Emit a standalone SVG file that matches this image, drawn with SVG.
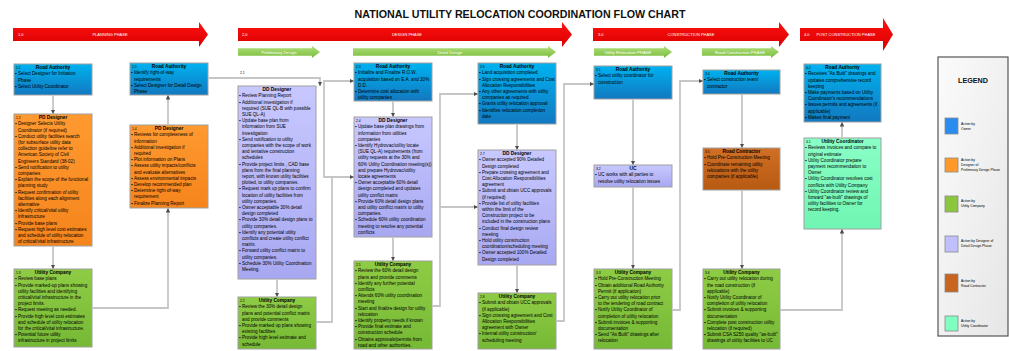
<svg xmlns="http://www.w3.org/2000/svg" width="1009" height="351" viewBox="0 0 1009 351">
<style>
.t{font-family:"Liberation Sans",Arial,sans-serif;font-size:4.6px;fill:#000}
.h{font-family:"Liberation Sans",Arial,sans-serif;font-size:4.8px;font-weight:bold;text-anchor:middle;fill:#000}
.n{font-family:"Liberation Sans",Arial,sans-serif;font-size:3.4px;fill:#000}
.box{stroke:#a0a0a0;stroke-width:1}
.c path{fill:none;stroke:#c6c6c6;stroke-width:1.8;marker-end:url(#ah)}
.ph{font-family:"Liberation Sans",Arial,sans-serif;font-size:4px;fill:#fff}
.gp{font-family:"Liberation Sans",Arial,sans-serif;font-size:4.2px;fill:#fff;text-anchor:middle}
.lg{font-family:"Liberation Sans",Arial,sans-serif;font-size:3.4px;fill:#000}
.sq{stroke:#8a8a8a;stroke-width:0.8}
</style>
<defs>
<linearGradient id="gBlue" x1="0" y1="0" x2="0" y2="1"><stop offset="0" stop-color="#00b2f0"/><stop offset="1" stop-color="#1278c0"/></linearGradient>
<linearGradient id="gOrange" x1="0" y1="0" x2="0" y2="1"><stop offset="0" stop-color="#ff9a30"/><stop offset="1" stop-color="#f5841c"/></linearGradient>
<linearGradient id="gGreen" x1="0" y1="0" x2="0" y2="1"><stop offset="0" stop-color="#8fcc45"/><stop offset="1" stop-color="#76b935"/></linearGradient>
<linearGradient id="gLav" x1="0" y1="0" x2="0" y2="1"><stop offset="0" stop-color="#c8c8ff"/><stop offset="1" stop-color="#a8a8f2"/></linearGradient>
<linearGradient id="gBrown" x1="0" y1="0" x2="0" y2="1"><stop offset="0" stop-color="#d06f25"/><stop offset="1" stop-color="#b85a12"/></linearGradient>
<linearGradient id="gMint" x1="0" y1="0" x2="0" y2="1"><stop offset="0" stop-color="#8affc6"/><stop offset="1" stop-color="#70f5b2"/></linearGradient>
<linearGradient id="gRed" x1="0" y1="0" x2="0" y2="1"><stop offset="0" stop-color="#ff1010"/><stop offset="1" stop-color="#d80000"/></linearGradient>
<linearGradient id="gGA" x1="0" y1="0" x2="0" y2="1"><stop offset="0" stop-color="#b2de7c"/><stop offset="1" stop-color="#78be3c"/></linearGradient>
<linearGradient id="gLeg" x1="0" y1="0" x2="1" y2="1"><stop offset="0" stop-color="#fbfbfb"/><stop offset="1" stop-color="#e6e6e6"/></linearGradient>
<marker id="ah" markerWidth="4.5" markerHeight="4.5" refX="4.5" refY="2.25" orient="auto" markerUnits="userSpaceOnUse"><path d="M0,0 L4.5,2.25 L0,4.5 Z" fill="#4d4d4d"/></marker>
</defs>
<rect width="1009" height="351" fill="#fff"/>
<text x="520" y="18.3" font-family="Liberation Sans, Arial, sans-serif" font-size="10.7" font-weight="bold" text-anchor="middle" fill="#111">NATIONAL UTILITY RELOCATION COORDINATION FLOW CHART</text>

<g id="phases">
<path d="M13,28 H199 V22 L208,34.5 L199,47 V41 H13 Z" fill="url(#gRed)"/>
<text class="ph" x="18" y="36.2">1.0</text><text class="ph" x="110" y="36.2" text-anchor="middle">PLANNING PHASE</text>
<path d="M238,28 H562 V22 L572,34.5 L562,47 V41 H238 Z" fill="url(#gRed)"/>
<text class="ph" x="242" y="36.2">2.0</text><text class="ph" x="407" y="36.2" text-anchor="middle">DESIGN PHASE</text>
<path d="M593,28 H779 V22 L789,34.5 L779,47 V41 H593 Z" fill="url(#gRed)"/>
<text class="ph" x="598" y="36.2">3.0</text><text class="ph" x="691" y="36.2" text-anchor="middle">CONSTRUCTION PHASE</text>
<path d="M800,28 H883 V18 L893,34.5 L883,51 V41 H800 Z" fill="url(#gRed)"/>
<text class="ph" x="804" y="36.2">4.0</text><text class="ph" x="846" y="36.2" text-anchor="middle">POST CONSTRUCTION PHASE</text>
<path d="M238,48.3 H312 V46 L320,52 L312,58 V55.7 H238 Z" fill="url(#gGA)"/>
<text class="gp" x="279" y="53.5">Preliminary Design</text>
<path d="M353,48.3 H548 V46 L556,52 L548,58 V55.7 H353 Z" fill="url(#gGA)"/>
<text class="gp" x="450" y="53.5">Detail Design</text>
<path d="M594,48.3 H664 V46 L672,52 L664,58 V55.7 H594 Z" fill="url(#gGA)"/>
<text class="gp" x="628" y="53.5">Utility Relocation PHASE</text>
<path d="M702,48.3 H771 V46 L779,52 L771,58 V55.7 H702 Z" fill="url(#gGA)"/>
<text class="gp" x="740" y="53.5">Road Construction PHASE</text>
</g>

<g id="n1_1">
<rect class="box" x="14" y="64" width="78" height="31" fill="url(#gBlue)"/>
<text class="n" x="16" y="68.6">1.1</text>
<text class="h" x="53" y="69.2">Road Authority</text>
<text class="t"><tspan x="15.2" y="75.4">▪</tspan><tspan x="18">Select Designer for Initiation</tspan><tspan x="18" y="81.6">Phase</tspan><tspan x="15.2" y="87.8">▪</tspan><tspan x="18">Select Utility Coordinator</tspan></text>
</g>

<g id="n1_2">
<rect class="box" x="14" y="114" width="78" height="132" fill="url(#gOrange)"/>
<text class="n" x="16" y="118.6">1.2</text>
<text class="h" x="53" y="119.2">PD Designer</text>
<text class="t"><tspan x="15.2" y="125.4">▪</tspan><tspan x="18">Designer Selects Utility</tspan><tspan x="18" y="131.6">Coordinator (if required)</tspan><tspan x="15.2" y="137.8">▪</tspan><tspan x="18">Conduct utility facilities search</tspan><tspan x="18" y="144">(for subsurface utility data</tspan><tspan x="18" y="150.2">collection guideline refer to</tspan><tspan x="18" y="156.4">American Society of Civil</tspan><tspan x="18" y="162.6">Engineers Standard (38-02)</tspan><tspan x="15.2" y="168.8">▪</tspan><tspan x="18">Send notification to utility</tspan><tspan x="18" y="175">companies</tspan><tspan x="15.2" y="181.2">▪</tspan><tspan x="18">Explain the scope of the functional</tspan><tspan x="18" y="187.4">planning study</tspan><tspan x="15.2" y="193.6">▪</tspan><tspan x="18">Request confirmation of utility</tspan><tspan x="18" y="199.8">facilities along each alignment</tspan><tspan x="18" y="206">alternative</tspan><tspan x="15.2" y="212.2">▪</tspan><tspan x="18">Identify critical/vital utility</tspan><tspan x="18" y="218.4">infrastructure</tspan><tspan x="15.2" y="224.6">▪</tspan><tspan x="18">Provide base plans</tspan><tspan x="15.2" y="230.8">▪</tspan><tspan x="18">Request high level cost estimates</tspan><tspan x="18" y="237">and schedule of utility relocation</tspan><tspan x="18" y="243.2">of critical/vital infrastructure</tspan></text>
</g>

<g id="n1_3">
<rect class="box" x="14" y="269" width="78" height="78" fill="url(#gGreen)"/>
<text class="n" x="16" y="273.6">1.3</text>
<text class="h" x="53" y="274.2">Utility Company</text>
<text class="t"><tspan x="15.2" y="280.4">▪</tspan><tspan x="18">Review base plans</tspan><tspan x="15.2" y="286.6">▪</tspan><tspan x="18">Provide  marked-up plans showing</tspan><tspan x="18" y="292.8">utility facilities and identifying</tspan><tspan x="18" y="299">critical/vital infrastructure in the</tspan><tspan x="18" y="305.2">project limits.</tspan><tspan x="15.2" y="311.4">▪</tspan><tspan x="18">Request meeting as needed.</tspan><tspan x="15.2" y="317.6">▪</tspan><tspan x="18">Provide high level cost estimates</tspan><tspan x="18" y="323.8">and schedule of utility relocation</tspan><tspan x="18" y="330">for the critical/vital infrastructure.</tspan><tspan x="15.2" y="336.2">▪</tspan><tspan x="18">Potential future utility</tspan><tspan x="18" y="342.4">infrastructure in project limits</tspan></text>
</g>

<g id="n1_5">
<rect class="box" x="130" y="63" width="78" height="32" fill="url(#gBlue)"/>
<text class="n" x="132" y="67.6">1.5</text>
<text class="h" x="169" y="68.2">Road Authority</text>
<text class="t"><tspan x="131.2" y="74.4">▪</tspan><tspan x="134">Identify right-of-way</tspan><tspan x="134" y="80.6">requirements</tspan><tspan x="131.2" y="86.8">▪</tspan><tspan x="134">Select Designer for Detail Design</tspan><tspan x="134" y="93">Phase</tspan></text>
</g>

<g id="n1_4">
<rect class="box" x="130" y="125" width="78" height="83" fill="url(#gOrange)"/>
<text class="n" x="132" y="129.6">1.4</text>
<text class="h" x="169" y="130.2">PD Designer</text>
<text class="t"><tspan x="131.2" y="136.4">▪</tspan><tspan x="134">Reviews for completeness of</tspan><tspan x="134" y="142.6">information</tspan><tspan x="131.2" y="148.8">▪</tspan><tspan x="134">Additional investigation if</tspan><tspan x="134" y="155">required</tspan><tspan x="131.2" y="161.2">▪</tspan><tspan x="134">Plot information on Plans</tspan><tspan x="131.2" y="167.4">▪</tspan><tspan x="134">Assess utility impacts/conflicts</tspan><tspan x="134" y="173.6">and evaluate alternatives</tspan><tspan x="131.2" y="179.8">▪</tspan><tspan x="134">Assess environmental impacts</tspan><tspan x="131.2" y="186">▪</tspan><tspan x="134">Develop recommended plan</tspan><tspan x="131.2" y="192.2">▪</tspan><tspan x="134">Determine right-of-way</tspan><tspan x="134" y="198.4">requirement</tspan><tspan x="131.2" y="204.6">▪</tspan><tspan x="134">Finalize Planning Report</tspan></text>
</g>

<g id="n2_1">
<text class="n" x="240" y="74">2.1</text>
<rect class="box" x="238" y="86" width="78" height="193" fill="url(#gLav)"/>
<text class="h" x="277" y="91.2">DD Designer</text>
<text class="t"><tspan x="239.2" y="97.4">▪</tspan><tspan x="242">Review Planning Report</tspan><tspan x="239.2" y="103.6">▪</tspan><tspan x="242">Additional investigation if</tspan><tspan x="242" y="109.8">required (SUE QL-B with possible</tspan><tspan x="242" y="116">SUE QL-A)</tspan><tspan x="239.2" y="122.2">▪</tspan><tspan x="242">Update base plan from</tspan><tspan x="242" y="128.4">information from SUE</tspan><tspan x="242" y="134.6">investigation</tspan><tspan x="239.2" y="140.8">▪</tspan><tspan x="242">Send notification to utility</tspan><tspan x="242" y="147">companies with the scope of work</tspan><tspan x="242" y="153.2">and tentative construction</tspan><tspan x="242" y="159.4">schedules</tspan><tspan x="239.2" y="165.6">▪</tspan><tspan x="242">Provide project limits , CAD base</tspan><tspan x="242" y="171.8">plans from the final planning</tspan><tspan x="242" y="178">report, with known utility facilities</tspan><tspan x="242" y="184.2">plotted, to utility companies.</tspan><tspan x="239.2" y="190.4">▪</tspan><tspan x="242">Request mark up plans to confirm</tspan><tspan x="242" y="196.6">location of utility facilities from</tspan><tspan x="242" y="202.8">utility companies.</tspan><tspan x="239.2" y="209">▪</tspan><tspan x="242">Owner acceptable 30% detail</tspan><tspan x="242" y="215.2">design completed</tspan><tspan x="239.2" y="221.4">▪</tspan><tspan x="242">Provide 30% detail design plans to</tspan><tspan x="242" y="227.6">utility companies.</tspan><tspan x="239.2" y="233.8">▪</tspan><tspan x="242">Identify any potential utility</tspan><tspan x="242" y="240">conflicts and create utility conflict</tspan><tspan x="242" y="246.2">matrix.</tspan><tspan x="239.2" y="252.4">▪</tspan><tspan x="242">Forward utility conflict matrix to</tspan><tspan x="242" y="258.6">utility companies.</tspan><tspan x="239.2" y="264.8">▪</tspan><tspan x="242">Schedule 30% Utility Coordination</tspan><tspan x="242" y="271">Meeting.</tspan></text>
</g>

<g id="n2_2">
<rect class="box" x="238" y="297" width="78" height="52" fill="url(#gGreen)"/>
<text class="n" x="240" y="301.6">2.2</text>
<text class="h" x="277" y="302.2">Utility Company</text>
<text class="t"><tspan x="239.2" y="308.4">▪</tspan><tspan x="242">Review the 30% detail design</tspan><tspan x="242" y="314.6">plans and potential conflict matrix</tspan><tspan x="242" y="320.8">and provide comments</tspan><tspan x="239.2" y="327">▪</tspan><tspan x="242">Provide marked up plans showing</tspan><tspan x="242" y="333.2">existing facilities</tspan><tspan x="239.2" y="339.4">▪</tspan><tspan x="242">Provide high level estimate and</tspan><tspan x="242" y="345.6">schedule</tspan></text>
</g>

<g id="n2_3">
<rect class="box" x="354" y="63" width="78" height="38" fill="url(#gBlue)"/>
<text class="n" x="356" y="67.6">2.3</text>
<text class="h" x="393" y="68.2">Road Authority</text>
<text class="t"><tspan x="355.2" y="74.4">▪</tspan><tspan x="358">Initialize and Finalize R.O.W.</tspan><tspan x="358" y="80.6">acquisition based on E.A. and 30%</tspan><tspan x="358" y="86.8">D.D.</tspan><tspan x="355.2" y="93">▪</tspan><tspan x="358">Determine cost allocation with</tspan><tspan x="358" y="99.2">utility companies</tspan></text>
</g>

<g id="n2_4">
<rect class="box" x="354" y="117" width="78" height="120" fill="url(#gLav)"/>
<text class="n" x="356" y="121.6">2.4</text>
<text class="h" x="393" y="122.2">DD Designer</text>
<text class="t"><tspan x="355.2" y="128.4">▪</tspan><tspan x="358">Update base plan drawings from</tspan><tspan x="358" y="134.6">information from utilities</tspan><tspan x="358" y="140.8">companies</tspan><tspan x="355.2" y="147">▪</tspan><tspan x="358">Identify Hydrovac/utility locate</tspan><tspan x="358" y="153.2">(SUE QL-A) requirements (from</tspan><tspan x="358" y="159.4">utility requests at the 30% and</tspan><tspan x="358" y="165.6">60% Utility Coordination meeting(s))</tspan><tspan x="358" y="171.8">and prepare Hydrovac/utility</tspan><tspan x="358" y="178">locate agreements</tspan><tspan x="355.2" y="184.2">▪</tspan><tspan x="358">Owner acceptable 60% detail</tspan><tspan x="358" y="190.4">design completed and updates</tspan><tspan x="358" y="196.6">utility conflict matrix</tspan><tspan x="355.2" y="202.8">▪</tspan><tspan x="358">Provide 60% detail design plans</tspan><tspan x="358" y="209">and utility conflict matrix to utility</tspan><tspan x="358" y="215.2">companies.</tspan><tspan x="355.2" y="221.4">▪</tspan><tspan x="358">Schedule 60%  utility coordination</tspan><tspan x="358" y="227.6">meeting to resolve any potential</tspan><tspan x="358" y="233.8">conflicts</tspan></text>
</g>

<g id="n2_5">
<rect class="box" x="354" y="261" width="78" height="88" fill="url(#gGreen)"/>
<text class="n" x="356" y="265.6">2.5</text>
<text class="h" x="393" y="266.2">Utility Company</text>
<text class="t"><tspan x="355.2" y="272.4">▪</tspan><tspan x="358">Review the 60% detail design</tspan><tspan x="358" y="278.6">plans and provide comments</tspan><tspan x="355.2" y="284.8">▪</tspan><tspan x="358">Identify any further potential</tspan><tspan x="358" y="291">conflicts</tspan><tspan x="355.2" y="297.2">▪</tspan><tspan x="358">Attends 60% utility coordination</tspan><tspan x="358" y="303.4">meeting</tspan><tspan x="355.2" y="309.6">▪</tspan><tspan x="358">Start and finalize design for utility</tspan><tspan x="358" y="315.8">relocation</tspan><tspan x="355.2" y="322">▪</tspan><tspan x="358">Identify property needs if known</tspan><tspan x="355.2" y="328.2">▪</tspan><tspan x="358">Provide final estimate and</tspan><tspan x="358" y="334.4">construction schedule</tspan><tspan x="355.2" y="340.6">▪</tspan><tspan x="358">Obtains approvals/permits from</tspan><tspan x="358" y="346.8">road and other authorities.</tspan></text>
</g>

<g id="n2_6">
<rect class="box" x="478" y="63" width="78" height="61" fill="url(#gBlue)"/>
<text class="n" x="480" y="67.6">2.6</text>
<text class="h" x="517" y="68.2">Road Authority</text>
<text class="t"><tspan x="479.2" y="74.4">▪</tspan><tspan x="482">Land acquisition completed</tspan><tspan x="479.2" y="80.6">▪</tspan><tspan x="482">Sign crossing agreements and Cost</tspan><tspan x="482" y="86.8">Allocation Responsibilities</tspan><tspan x="479.2" y="93">▪</tspan><tspan x="482">Any other agreements with utility</tspan><tspan x="482" y="99.2">companies as required</tspan><tspan x="479.2" y="105.4">▪</tspan><tspan x="482">Grants utility relocation approval</tspan><tspan x="479.2" y="111.6">▪</tspan><tspan x="482">Identifies relocation completion</tspan><tspan x="482" y="117.8">date</tspan></text>
</g>

<g id="n2_7">
<rect class="box" x="478" y="150" width="78" height="115" fill="url(#gLav)"/>
<text class="n" x="480" y="154.6">2.7</text>
<text class="h" x="517" y="155.2">DD Designer</text>
<text class="t"><tspan x="479.2" y="161.4">▪</tspan><tspan x="482">Owner accepted 90% Detailed</tspan><tspan x="482" y="167.6">Design completed</tspan><tspan x="479.2" y="173.8">▪</tspan><tspan x="482">Prepare crossing agreement and</tspan><tspan x="482" y="180">Cost Allocation Responsibilities</tspan><tspan x="482" y="186.2">agreement</tspan><tspan x="479.2" y="192.4">▪</tspan><tspan x="482">Submit and obtain UCC approvals</tspan><tspan x="482" y="198.6">(if required)</tspan><tspan x="479.2" y="204.8">▪</tspan><tspan x="482">Provide list of utility facilities</tspan><tspan x="482" y="211">within the limit of the</tspan><tspan x="482" y="217.2">Construction project to be</tspan><tspan x="482" y="223.4">included in the construction plans</tspan><tspan x="479.2" y="229.6">▪</tspan><tspan x="482">Conduct final design review</tspan><tspan x="482" y="235.8">meeting</tspan><tspan x="479.2" y="242">▪</tspan><tspan x="482">Hold utility construction</tspan><tspan x="482" y="248.2">coordination/scheduling meeting</tspan><tspan x="479.2" y="254.4">▪</tspan><tspan x="482">Owner accepted 100% Detailed</tspan><tspan x="482" y="260.6">Design completed</tspan></text>
</g>

<g id="n2_8">
<rect class="box" x="478" y="293" width="78" height="56" fill="url(#gGreen)"/>
<text class="n" x="480" y="297.6">2.8</text>
<text class="h" x="517" y="298.2">Utility Company</text>
<text class="t"><tspan x="479.2" y="304.4">▪</tspan><tspan x="482">Submit and obtain UCC approvals</tspan><tspan x="482" y="310.6">(if applicable)</tspan><tspan x="479.2" y="316.8">▪</tspan><tspan x="482">Sign crossing agreement and Cost</tspan><tspan x="482" y="323">Allocation Responsibilities</tspan><tspan x="482" y="329.2">agreement with Owner</tspan><tspan x="479.2" y="335.4">▪</tspan><tspan x="482">Internal utility construction/</tspan><tspan x="482" y="341.6">scheduling meeting</tspan></text>
</g>

<g id="n3_1">
<rect class="box" x="594" y="66" width="78" height="33" fill="url(#gBlue)"/>
<text class="n" x="596" y="70.6">3.1</text>
<text class="h" x="633" y="71.2">Road Authority</text>
<text class="t"><tspan x="595.2" y="77.4">▪</tspan><tspan x="598">Select utility coordinator for</tspan><tspan x="598" y="83.6">construction</tspan></text>
</g>

<g id="n3_2">
<rect class="box" x="594" y="165" width="78" height="22" fill="url(#gLav)"/>
<text class="n" x="596" y="169.6">3.2</text>
<text class="h" x="633" y="170.2">UC</text>
<text class="t"><tspan x="595.2" y="176.4">▪</tspan><tspan x="598">UC works with all parties to</tspan><tspan x="598" y="182.6">resolve utility relocation issues</tspan></text>
</g>

<g id="n3_3">
<rect class="box" x="594" y="269" width="78" height="80" fill="url(#gGreen)"/>
<text class="n" x="596" y="273.6">3.3</text>
<text class="h" x="633" y="274.2">Utility Company</text>
<text class="t"><tspan x="595.2" y="280.4">▪</tspan><tspan x="598">Hold Pre-Construction Meeting</tspan><tspan x="595.2" y="286.6">▪</tspan><tspan x="598">Obtain additional Road Authority</tspan><tspan x="598" y="292.8">Permit (if application)</tspan><tspan x="595.2" y="299">▪</tspan><tspan x="598">Carry out utility relocation  prior</tspan><tspan x="598" y="305.2">to the tendering of road contract</tspan><tspan x="595.2" y="311.4">▪</tspan><tspan x="598">Notify Utility Coordinator of</tspan><tspan x="598" y="317.6">completion of utility relocation</tspan><tspan x="595.2" y="323.8">▪</tspan><tspan x="598">Submit invoices &amp; supporting</tspan><tspan x="598" y="330">documentation</tspan><tspan x="595.2" y="336.2">▪</tspan><tspan x="598">Send "As Built" drawings after</tspan><tspan x="598" y="342.4">relocation</tspan></text>
</g>

<g id="n3_4">
<rect class="box" x="703" y="70" width="77" height="24" fill="url(#gBlue)"/>
<text class="n" x="705" y="74.6">3.4</text>
<text class="h" x="741.5" y="75.2">Road Authority</text>
<text class="t"><tspan x="704.2" y="81.4">▪</tspan><tspan x="707">Select construction team/</tspan><tspan x="707" y="87.6">contractor</tspan></text>
</g>

<g id="n3_5">
<rect class="box" x="703" y="148" width="77" height="42" fill="url(#gBrown)"/>
<text class="n" x="705" y="152.6">3.5</text>
<text class="h" x="741.5" y="153.2">Road Contractor</text>
<text class="t"><tspan x="704.2" y="159.4">▪</tspan><tspan x="707">Hold Pre-Construction Meeting</tspan><tspan x="704.2" y="165.6">▪</tspan><tspan x="707">Coordinate remaining utility</tspan><tspan x="707" y="171.8">relocations with the utility</tspan><tspan x="707" y="178">companies (if applicable)</tspan></text>
</g>

<g id="n3_6">
<rect class="box" x="703" y="269" width="77" height="80" fill="url(#gGreen)"/>
<text class="n" x="705" y="273.6">3.6</text>
<text class="h" x="741.5" y="274.2">Utility Company</text>
<text class="t"><tspan x="704.2" y="280.4">▪</tspan><tspan x="707">Carry out utility relocation during</tspan><tspan x="707" y="286.6">the road construction (if</tspan><tspan x="707" y="292.8">applicable)</tspan><tspan x="704.2" y="299">▪</tspan><tspan x="707">Notify Utility Coordinator of</tspan><tspan x="707" y="305.2">completion of utility relocation</tspan><tspan x="704.2" y="311.4">▪</tspan><tspan x="707">Submit invoices &amp; supporting</tspan><tspan x="707" y="317.6">documentation</tspan><tspan x="704.2" y="323.8">▪</tspan><tspan x="707">Complete post construction utility</tspan><tspan x="707" y="330">relocation (if required)</tspan><tspan x="704.2" y="336.2">▪</tspan><tspan x="707">Submit CSA S250 quality "as-built"</tspan><tspan x="707" y="342.4">drawings of utility facilities to UC</tspan></text>
</g>

<g id="n4_2">
<rect class="box" x="804" y="64" width="77" height="58" fill="url(#gBlue)"/>
<text class="n" x="806" y="68.6">4.2</text>
<text class="h" x="842.5" y="69.2">Road Authority</text>
<text class="t"><tspan x="805.2" y="75.4">▪</tspan><tspan x="808">Receives "As Built" drawings and</tspan><tspan x="808" y="81.6">updates comprehensive record</tspan><tspan x="808" y="87.8">keeping</tspan><tspan x="805.2" y="94">▪</tspan><tspan x="808">Make payments based on Utility</tspan><tspan x="808" y="100.2">Coordinator's recommendations</tspan><tspan x="805.2" y="106.4">▪</tspan><tspan x="808">Issues permits and agreements (if</tspan><tspan x="808" y="112.6">applicable)</tspan><tspan x="805.2" y="118.8">▪</tspan><tspan x="808">Makes final payment</tspan></text>
</g>

<g id="n4_1">
<rect class="box" x="804" y="138" width="77" height="91" fill="url(#gMint)"/>
<text class="n" x="806" y="142.6">4.1</text>
<text class="h" x="842.5" y="143.2">Utility Coordinator</text>
<text class="t"><tspan x="805.2" y="149.4">▪</tspan><tspan x="808">Reviews invoices and compare to</tspan><tspan x="808" y="155.6">original estimate</tspan><tspan x="805.2" y="161.8">▪</tspan><tspan x="808">Utility Coordinator prepare</tspan><tspan x="808" y="168">payment recommendation to</tspan><tspan x="808" y="174.2">Owner</tspan><tspan x="805.2" y="180.4">▪</tspan><tspan x="808">Utility Coordinator resolves cost</tspan><tspan x="808" y="186.6">conflicts with Utility Company</tspan><tspan x="805.2" y="192.8">▪</tspan><tspan x="808">Utility Coordinator review and</tspan><tspan x="808" y="199">forward "as-built" drawings of</tspan><tspan x="808" y="205.2">utility facilities to Owner for</tspan><tspan x="808" y="211.4">record keeping.</tspan></text>
</g>

<g id="connectors" class="c">
<path d="M53,95 V114"/>
<path d="M53,246 V269"/>
<path d="M92,308 H168 V208"/>
<path d="M168,125 V95"/>
<path d="M208,78 H320 V86"/>
<path d="M277,279 V297"/>
<path d="M316,322 H332 V177 H354"/>
<path d="M332,177 H324 V81 H354"/>
<path d="M393,101 V117"/>
<path d="M393,237 V261"/>
<path d="M432,306 H440 V207 H478"/>
<path d="M440,207 V94 H478"/>
<path d="M517,124 V150"/>
<path d="M517,265 V293"/>
<path d="M556,321 H564 V84 H594"/>
<path d="M633,99 V165"/>
<path d="M633,187 V269"/>
<path d="M672,310 H680 V81 H703"/>
<path d="M742,94 V148"/>
<path d="M742,190 V269"/>
<path d="M780,310 H842 V229"/>
<path d="M842,138 V122"/>
</g>

<g id="legend">
<rect x="938" y="57" width="70" height="279" fill="url(#gLeg)" stroke="#555" stroke-width="1.2"/>
<text x="973" y="82.5" font-family="Liberation Sans, Arial, sans-serif" font-size="7.2" font-weight="bold" text-anchor="middle" fill="#111">LEGEND</text>
<rect class="sq" x="945" y="118" width="13" height="16" fill="#2b8cf0"/>
<text class="lg"><tspan x="961" y="125.3">Action by</tspan><tspan x="961" y="130.3">Owner</tspan></text>
<rect class="sq" x="945" y="158" width="13" height="14" fill="#ff9a2a"/>
<text class="lg"><tspan x="961" y="161">Action by</tspan><tspan x="961" y="166">Designer of</tspan><tspan x="961" y="171">Preliminary Design Phase</tspan></text>
<rect class="sq" x="945" y="196" width="13" height="16" fill="#8cc63f"/>
<text class="lg"><tspan x="961" y="202.3">Action by</tspan><tspan x="961" y="207.3">Utility Company</tspan></text>
<rect class="sq" x="945" y="236" width="13" height="16" fill="#c0c0ff"/>
<text class="lg"><tspan x="961" y="242.3">Action by Designer of</tspan><tspan x="961" y="247.3">Detail Design Phase</tspan></text>
<rect class="sq" x="945" y="274" width="13" height="18" fill="#c8641e"/>
<text class="lg"><tspan x="961" y="282">Action by</tspan><tspan x="961" y="287">Road Contractor</tspan></text>
<rect class="sq" x="945" y="316" width="13" height="15" fill="#80ffc0"/>
<text class="lg"><tspan x="961" y="322">Action by</tspan><tspan x="961" y="327">Utility Coordinator</tspan></text>
</g>
</svg>
